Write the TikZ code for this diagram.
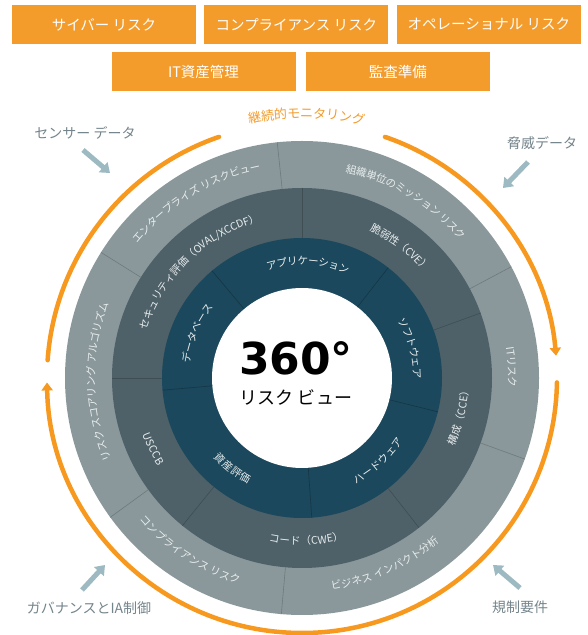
\documentclass[tikz,border=0pt]{standalone}
\usepackage{fontspec}
\setmainfont{Noto Sans CJK JP}
\newfontfamily\numfont{DejaVu Sans}
\usetikzlibrary{positioning,arrows.meta,decorations.text}

\definecolor{riskorange}{HTML}{F39C2C}
\definecolor{ringorange}{HTML}{F7981F}
\definecolor{outergray}{HTML}{8A989B}
\definecolor{midslate}{HTML}{4E6168}
\definecolor{innerteal}{HTML}{1B485C}
\definecolor{ringtxt}{HTML}{E8EDEE}
\definecolor{feedtxt}{HTML}{74848B}
\definecolor{feedarrow}{HTML}{9DB9C1}

\newcommand{\ringfont}{\fontsize{10.5}{12}\selectfont\color{ringtxt}}
% text on an arc round (c): clockwise / counter-clockwise
\newcommand{\ringcw}[3]{%
  \path[decorate,decoration={text along path,text align=center,raise=-3.8pt,
      text={|\ringfont|#3}}]
    ([shift={(#1+50:#2)}]c) arc[start angle=#1+50,end angle=#1-50,radius=#2];}
\newcommand{\ringccw}[3]{%
  \path[decorate,decoration={text along path,text align=center,raise=-3.8pt,
      text={|\ringfont|#3}}]
    ([shift={(#1-50:#2)}]c) arc[start angle=#1-50,end angle=#1+50,radius=#2];}

\tikzset{
  riskbox/.style={fill=riskorange,text=white,font=\fontsize{14.5}{16}\selectfont,
    minimum width=184pt,minimum height=39pt,inner sep=0pt},
  feedlabel/.style={text=feedtxt,font=\fontsize{14}{16}\selectfont},
  feed/.style={draw=feedarrow,line width=5pt,-{Triangle[width=13pt,length=9pt]}},
  monitorarc/.style={draw=ringorange,line width=4.5pt,line cap=round},
  segline/.style={line width=0.6pt}
}

\begin{document}
\begin{tikzpicture}[x=1pt,y=1pt]
    \useasboundingbox (0,0) rectangle (587,635);
    \coordinate (c) at (302,257);

    % Boxes
    \node[riskbox] (cyber) at (104,610.5) {サイバー リスク};
    \node[riskbox,right=8pt of cyber] (compl) {コンプライアンス リスク};
    \node[riskbox,right=8pt of compl] (ops) {オペレーショナル リスク};
    \node[riskbox] (itasset) at (203.5,563.5) {IT資産管理};
    \node[riskbox,right=10pt of itasset] (audit) {監査準備};

    % Rings
    \fill[outergray] (c) circle[radius=237];
    \fill[midslate] (c) circle[radius=190];
    \fill[innerteal] (c) circle[radius=140];
    \fill[white] (c) circle[radius=90];

    \foreach \a in {96,148,216,265,-20,28}
        \draw[segline,draw=outergray!80!black] ([shift={(\a:190)}]c) -- ([shift={(\a:237)}]c);
    \foreach \a in {90,180,231,308,20}
        \draw[segline,draw=midslate!80!black] ([shift={(\a:140)}]c) -- ([shift={(\a:190)}]c);
    \foreach \a in {52,130,185,274,-14}
        \draw[segline,draw=innerteal!75!black] ([shift={(\a:90)}]c) -- ([shift={(\a:140)}]c);

    % Monitoring loop
    \draw[monitorarc,-{Triangle[width=11pt,length=8pt]}]
        ([shift={(71:255)}]c) arc[start angle=71,end angle=5,radius=255];
    \draw[monitorarc,-{Triangle[width=11pt,length=8pt]}]
        ([shift={(-1:255)}]c) arc[start angle=-1,end angle=-179,radius=255];
    \draw[monitorarc] ([shift={(176:255)}]c) arc[start angle=176,end angle=109,radius=255];
    \path[decorate,decoration={text along path,text align=center,raise=-4pt,
        text={|\fontsize{13}{14}\selectfont\color{riskorange}|継続的モニタリング}}]
        ([shift={(119:264)}]c) arc[start angle=119,end angle=59,radius=264];

    % Outer ring
    \ringcw{121}{216}{エンタープライズ リスクビュー}
    \ringcw{59.5}{214}{組織単位のミッション リスク}
    \ringcw{3}{210}{ITリスク}
    \ringccw{-66}{210}{ビジネス インパクト分析}
    \ringccw{237}{212}{コンプライアンス リスク}
    \ringcw{181}{211}{リスク スコアリング アルゴリズム}

    % Middle ring
    \ringcw{134}{166}{セキュリティ評価（OVAL/XCCDF）}
    \ringcw{53}{166}{脆弱性（CVE）}
    \ringccw{-13.5}{163}{構成（CCE）}
    \ringccw{271.5}{163}{コード（CWE）}
    \ringccw{205.5}{165}{USCCB}

    % Inner ring
    \ringcw{87}{117}{アプリケーション}
    \ringcw{15.5}{115}{ソフトウェア}
    \ringccw{-47.5}{115}{ハードウェア}
    \ringccw{232.5}{115}{資産評価}
    \ringcw{157}{117}{データベース}

    % Centre
    \node[anchor=base,inner sep=0pt] (deg) at (296,260)
        {\numfont\bfseries\fontsize{44}{44}\selectfont 360°};
    \node[anchor=base,inner sep=0pt] (view) at (296,230)
        {\fontsize{18}{20}\selectfont リスク ビュー};

    % Feeds
    \node[feedlabel] (sensor) at (85,502) {センサー データ};
    \node[feedlabel] (threat) at (542,492) {脅威データ};
    \node[feedlabel] (govern) at (89,27) {ガバナンスとIA制御};
    \node[feedlabel] (regul) at (520,28) {規制要件};
    \coordinate (sensortail) at (83,485);
    \coordinate (sensortip) at (110,462);
    \coordinate (threattail) at (528,473);
    \coordinate (threattip) at (503,447);
    \coordinate (governtail) at (82,45);
    \coordinate (governtip) at (105,70);
    \coordinate (regultail) at (520,47);
    \coordinate (regultip) at (493,70);
    \draw[feed] (sensortail) -- (sensortip);
    \draw[feed] (threattail) -- (threattip);
    \draw[feed] (governtail) -- (governtip);
    \draw[feed] (regultail) -- (regultip);
\end{tikzpicture}
\end{document}
